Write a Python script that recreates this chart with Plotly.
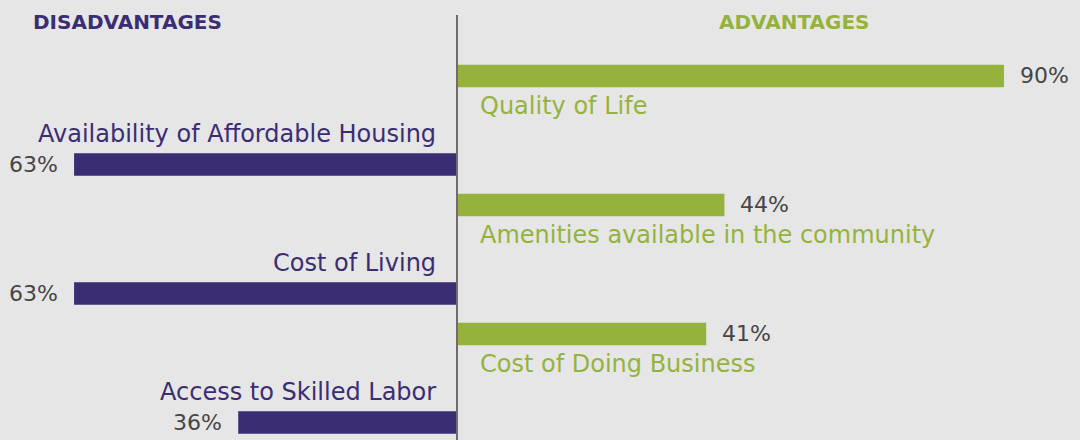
import plotly.graph_objects as go

adv_labels = ["Quality of Life", "Amenities available in the community", "Cost of Doing Business"]
adv_values = [90, 44, 41]
dis_labels = ["Availability of Affordable Housing", "Cost of Living", "Access to Skilled Labor"]
dis_values = [63, 63, 36]

GREEN = "#95b33c"
PURPLE = "#3b2d74"
BG = "#e6e6e6"
FONT = "DejaVu Sans"

# row positions (in row units): advantage rows at k, disadvantage rows offset below
adv_y = [k for k in range(len(adv_values))]
dis_y = [k + 0.686 for k in range(len(dis_values))]
BW = 0.175

fig = go.Figure()
fig.add_trace(go.Bar(x=adv_values, y=adv_y, orientation="h", width=BW,
                     marker=dict(color=GREEN, line=dict(width=0)), hoverinfo="skip"))
fig.add_trace(go.Bar(x=[-v for v in dis_values], y=dis_y, orientation="h", width=BW,
                     marker=dict(color=PURPLE, line=dict(width=0)), hoverinfo="skip"))

ann = []
for lab, v, y in zip(adv_labels, adv_values, adv_y):
    ann.append(dict(x=v, y=y, text=f"{v}%", xanchor="left", yanchor="middle", xshift=14,
                    showarrow=False, font=dict(family=FONT, size=22, color="#454545")))
    ann.append(dict(x=0, y=y, text=lab, xanchor="left", yanchor="middle", xshift=21, yshift=-30,
                    showarrow=False, font=dict(family=FONT, size=24, color=GREEN)))
for lab, v, y in zip(dis_labels, dis_values, dis_y):
    ann.append(dict(x=-v, y=y, text=f"{v}%", xanchor="right", yanchor="middle", xshift=-14,
                    showarrow=False, font=dict(family=FONT, size=22, color="#454545")))
    ann.append(dict(x=0, y=y, text=lab, xanchor="right", yanchor="middle", xshift=-19, yshift=30,
                    showarrow=False, font=dict(family=FONT, size=24, color=PURPLE)))

ann.append(dict(xref="paper", yref="paper", x=31/1080, y=1-22/440, text="<b>DISADVANTAGES</b>",
                xanchor="left", yanchor="middle", showarrow=False,
                font=dict(family=FONT, size=20, color=PURPLE)))
ann.append(dict(xref="paper", yref="paper", x=794/1080, y=1-22/440, text="<b>ADVANTAGES</b>",
                xanchor="center", yanchor="middle", showarrow=False,
                font=dict(family=FONT, size=20, color=GREEN)))

fig.update_layout(
    width=1080, height=440,
    margin=dict(l=0, r=0, t=0, b=0),
    paper_bgcolor=BG, plot_bgcolor=BG,
    showlegend=False,
    barmode="overlay",
    annotations=ann,
    xaxis=dict(range=[-75.19, 102.5], showgrid=False, zeroline=False, showticklabels=False, fixedrange=True),
    yaxis=dict(range=[2.822, -0.589], showgrid=False, zeroline=False, showticklabels=False, fixedrange=True),
    shapes=[dict(type="line", xref="x", yref="paper", x0=0, x1=0, y0=0, y1=1-15/440,
                 line=dict(color="#6f6b70", width=2), layer="above")],
)

fig.write_html("out.html", config={"displayModeBar": False},
               post_script="document.body.style.margin='0';document.body.style.background='#e6e6e6';document.body.style.overflow='hidden';")
